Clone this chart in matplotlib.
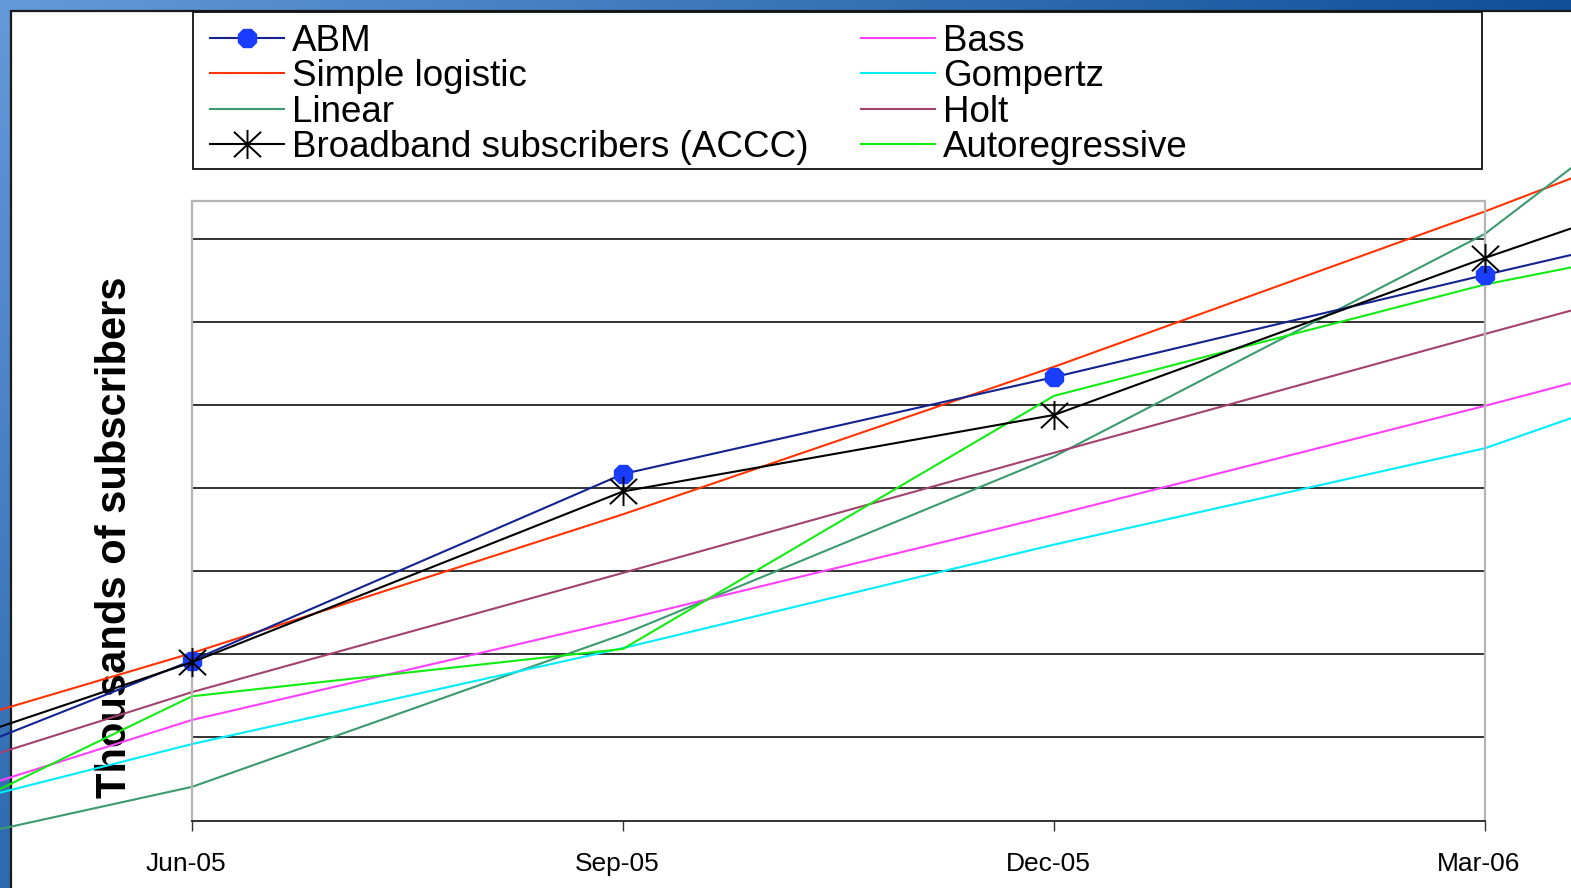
import numpy as np
import matplotlib
matplotlib.use("Agg")
import matplotlib.pyplot as plt
from matplotlib.patches import Rectangle
from matplotlib.path import Path
from matplotlib.markers import MarkerStyle
from matplotlib.colors import to_rgb
import matplotlib.transforms as mtransforms

plt.rcParams['font.family'] = ['Liberation Sans', 'DejaVu Sans']

# Quarterly series, thousands of subscribers
quarters = ["Mar-05", "Jun-05", "Sep-05", "Dec-05", "Mar-06", "Jun-06"]
shown_quarters = ["Jun-05", "Sep-05", "Dec-05", "Mar-06"]

abm = [1774, 2185, 2634, 2867, 3113, 3354]
simple_logistic = [1896, 2203, 2537, 2892, 3266, 3663]
linear = [1653, 1881, 2248, 2676, 3212, 4004]
broadband_accc = [1832, 2181, 2592, 2776, 3154, 3509]
bass = [1714, 2042, 2283, 2535, 2798, 3071]
gompertz = [1721, 1984, 2215, 2464, 2696, 3058]
holt = [1781, 2109, 2396, 2685, 2971, 3253]
autoregressive = [1598, 2099, 2213, 2822, 3090, 3296]

grid_values = [2000, 2200, 2400, 2600, 2800, 3000, 3200]

W, H = 1571, 888
fig = plt.figure(figsize=(W / 100, H / 100), dpi=100)

# Slide background: blue gradient band with a white panel
bg = fig.add_axes([0, 0, 1, 1], zorder=-10)
bg.set_axis_off()
xs = np.linspace(0, 1, 400)
ys = np.linspace(0, 1, 240)
gx, gy = np.meshgrid(xs, ys)
t = np.clip(gx * 0.85 + gy * 0.55, 0, 1)[..., None]
light = np.array(to_rgb('#6599da'))
dark = np.array(to_rgb('#00438c'))
img = light * (1 - t) + dark * t
bg.imshow(img, extent=[0, W, H, 0], aspect='auto', interpolation='bilinear')
bg.set_xlim(0, W)
bg.set_ylim(H, 0)
bg.add_patch(Rectangle((11.5, 11.5), W, H, facecolor='white',
                       edgecolor='#1a1a1a', linewidth=1.6))
# legend frame
bg.add_patch(Rectangle((193, 12), 1289, 157, facecolor='none',
                       edgecolor='#111111', linewidth=1.3))

# Plot area
left, right, top, bottom = 192, 1485, 201, 820.5
ax = fig.add_axes([left / W, 1 - bottom / H, (right - left) / W, (bottom - top) / H])
ax.set_facecolor('none')

x = np.arange(len(quarters)) - 1  # Jun-05 sits at 0

lw = 1.5
line_kw = dict(clip_on=False, linewidth=lw, solid_joinstyle='miter')
l_abm, = ax.plot(x, abm, color='#13238f', marker='8', markersize=14,
                 markerfacecolor='#1a3cff', markeredgecolor='#1a3cff',
                 label='ABM', zorder=3, **line_kw)
l_log, = ax.plot(x, simple_logistic, color='#ff3300', label='Simple logistic', **line_kw)
l_lin, = ax.plot(x, linear, color='#3a9a70', label='Linear', **line_kw)

star = Path([(0, -1), (0, 1), (-0.93, -0.87), (0.93, 0.87), (-0.93, 0.87), (0.93, -0.87)],
            [Path.MOVETO, Path.LINETO, Path.MOVETO, Path.LINETO, Path.MOVETO, Path.LINETO])
l_bb, = ax.plot(x, broadband_accc, color='black', marker=MarkerStyle(star), markersize=21,
                markerfacecolor='none', markeredgecolor='black', markeredgewidth=1.4,
                label='Broadband subscribers (ACCC)', zorder=4, **line_kw)
l_bass, = ax.plot(x, bass, color='#ff40ff', label='Bass', **line_kw)
l_gom, = ax.plot(x, gompertz, color='#00ecff', label='Gompertz', **line_kw)
l_holt, = ax.plot(x, holt, color='#a3426f', label='Holt', **line_kw)
l_ar, = ax.plot(x, autoregressive, color='#12ec12', label='Autoregressive', **line_kw)

ax.set_xlim(0, 3)
ax.set_ylim(1800, 3291)
ax.set_xticks(range(len(shown_quarters)))
ax.set_xticklabels(shown_quarters, fontsize=19)
ax.set_yticks(grid_values)
ax.tick_params(axis='y', length=0, labelleft=False)
ax.tick_params(axis='x', direction='out', length=7, width=1.0, color='#333333', pad=15.5)
shift = mtransforms.ScaledTranslation(-6 / 100, 0, fig.dpi_scale_trans)
for lab in ax.get_xticklabels():
    lab.set_transform(lab.get_transform() + shift)

ax.grid(axis='y', color='#222222', linewidth=1.3)
ax.grid(axis='x', visible=False)
ax.set_axisbelow(True)
for side in ('left', 'right', 'top'):
    ax.spines[side].set_color('#b4b4b4')
    ax.spines[side].set_linewidth(1.6)
ax.spines['bottom'].set_color('#222222')
ax.spines['bottom'].set_linewidth(1.3)

ax.set_ylabel('Thousands of subscribers', fontsize=30, fontweight='bold')
ax.yaxis.label.set_va('center')
ax.yaxis.set_label_coords((115 - left) / (right - left), (bottom - 537) / (bottom - top))

handles = [l_abm, l_log, l_lin, l_bb, l_bass, l_gom, l_holt, l_ar]
fig.legend(handles, [h.get_label() for h in handles], ncol=2, loc='upper left',
           bbox_to_anchor=(210 / W, 1 - 24 / H), bbox_transform=fig.transFigure,
           frameon=False, prop={'family': 'Liberation Sans', 'size': 26.5},
           handlelength=2.0, handletextpad=0.22, columnspacing=1.44,
           labelspacing=0.01, borderpad=0, borderaxespad=0, numpoints=1)

fig.savefig('out.png', dpi=100)
